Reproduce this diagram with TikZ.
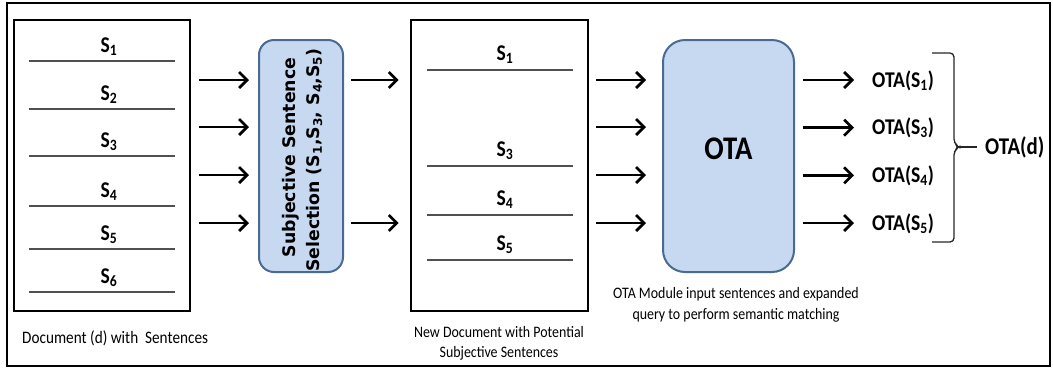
\documentclass[tikz,border=0pt]{standalone}
\usepackage{fontspec}
\usepackage{graphicx}
\setmainfont{Carlito}
\newfontfamily\wideface{DejaVu Sans}
\usetikzlibrary{arrows.meta}

% horizontally narrowed text
\newcommand\nrw[1]{\scalebox{0.87}[1]{#1}}
\newcommand\Sx[1]{S\textsubscript{#1}}

\tikzset{
  frame/.style={draw=black, line width=2pt},
  docbox/.style={draw=black, line width=2.6pt, minimum width=176pt, minimum height=291pt, inner sep=0pt},
  bluebox/.style={draw=boxedge, fill=boxfill, line width=2pt, inner sep=0pt},
  sepline/.style={draw=sepgray, line width=1.6pt},
  slabel/.style={anchor=base, inner sep=0pt, font=\fontsize{22.5}{26}\selectfont\bfseries},
  caption/.style={inner sep=0pt, font=\fontsize{16}{19}\selectfont},
  flow/.style={line width=2.7pt, -{Straight Barb[length=8pt,width=16pt,line width=2.7pt]}},
  outlabel/.style={anchor=base west, inner sep=0pt, font=\fontsize{22.5}{25}\selectfont\bfseries},
  vtext/.style={rotate=90, anchor=base, inner sep=0pt, font=\fontsize{17.3}{20}\selectfont\wideface\bfseries},
}
\definecolor{boxfill}{HTML}{C6D9F1}
\definecolor{boxedge}{HTML}{4A6A92}
\definecolor{sepgray}{HTML}{505050}

\begin{document}
\begin{tikzpicture}[x=1pt, y=-1pt]
\useasboundingbox (0,0) rectangle (1053,368);
\draw[frame] (7,3) rectangle (1050,366);

% ---- original document with all sentences
\node[docbox] (doc1) at (102,165.5) {};
\foreach \ly/\i in {61/1,109/2,156/3,206/4,249/5,292/6}{
  \draw[sepline] (29,\ly) -- (175,\ly);
  \node[slabel] (d1s\i) at (109,\ly-9) {\nrw{\Sx{\i}}};
}
\node[caption, anchor=base west] (cap1) at (22,343) {\nrw{\fontsize{17.5}{20}\selectfont Document (d) with\ \ Sentences}};

% ---- subjective sentence selection
\node[bluebox, rounded corners=15pt, minimum width=84pt, minimum height=232pt] (sel) at (301,156) {};
\node[vtext] (selA) at (295,157.5) {Subjective Sentence};
\node[vtext] (selB) at (319,160) {Selection (\Sx{1},\Sx{3}, \Sx{4},\Sx{5})};

% ---- document with the retained sentences
\node[docbox, minimum width=177pt] (doc2) at (499.5,165.5) {};
\foreach \ly/\i in {70/1,166/3,215/4,260/5}{
  \draw[sepline] (427,\ly) -- (573,\ly);
  \node[slabel] (d2s\i) at (505,\ly-10) {\nrw{\Sx{\i}}};
}
\node[caption, anchor=base] (cap2a) at (499,337) {\nrw{New Document with Potential}};
\node[caption, anchor=base] (cap2b) at (499,357) {\nrw{Subjective Sentences}};

% ---- OTA module
\node[bluebox, rounded corners=22pt, minimum width=131pt, minimum height=232pt] (ota) at (728.5,156) {};
\node[anchor=base, inner sep=0pt, font=\fontsize{33}{36}\selectfont\bfseries] (otat) at (728.5,159) {\nrw{OTA}};
\node[caption, anchor=base] (cap3a) at (736,298) {\nrw{OTA Module input sentences and expanded}};
\node[caption, anchor=base] (cap3b) at (736,319) {\nrw{query to perform semantic matching}};

% ---- per-sentence outputs
\foreach \ry/\i/\k in {80/1/1,127/3/2,175/4/3,223/5/4}{
  \node[outlabel] (o\k) at (872,\ry+7) {\nrw{OTA(\Sx{\i})}};
}

% ---- flow arrows
\foreach \ry in {80,127,175,223}{
  \draw[flow, shorten <=8pt, shorten >=9pt] (doc1.east |- 0,\ry) -- (sel.west |- 0,\ry);
  \draw[flow, shorten <=7pt, shorten >=16pt] (doc2.east |- 0,\ry) -- (ota.west |- 0,\ry);
}
\foreach \ry in {80,223}{
  \draw[flow, shorten <=7pt, shorten >=11pt] (sel.east |- 0,\ry) -- (doc2.west |- 0,\ry);
}
\foreach \k in {1,2,3,4}{
  \draw[flow, shorten <=8pt, shorten >=18pt] (ota.east |- 0,{80+47.67*(\k-1)}) -- (o\k.west |- 0,{80+47.67*(\k-1)});
}

% ---- brace gathering the outputs
\node[anchor=base west, inner sep=0pt, font=\fontsize{24}{28}\selectfont\bfseries] (otad) at (985,154) {\nrw{OTA(d)}};
\coordinate (tip) at (959,147);
\draw[line width=1.3pt, draw=black!85, rounded corners=4pt]
  (932,53) -- (954,53) -- (954,143) -- (tip) -- (954,151) -- (954,242) -- (932,242);
\draw[line width=1.3pt, draw=black!85, shorten >=8pt] (tip) -- (otad.west |- tip);
\end{tikzpicture}
\end{document}
